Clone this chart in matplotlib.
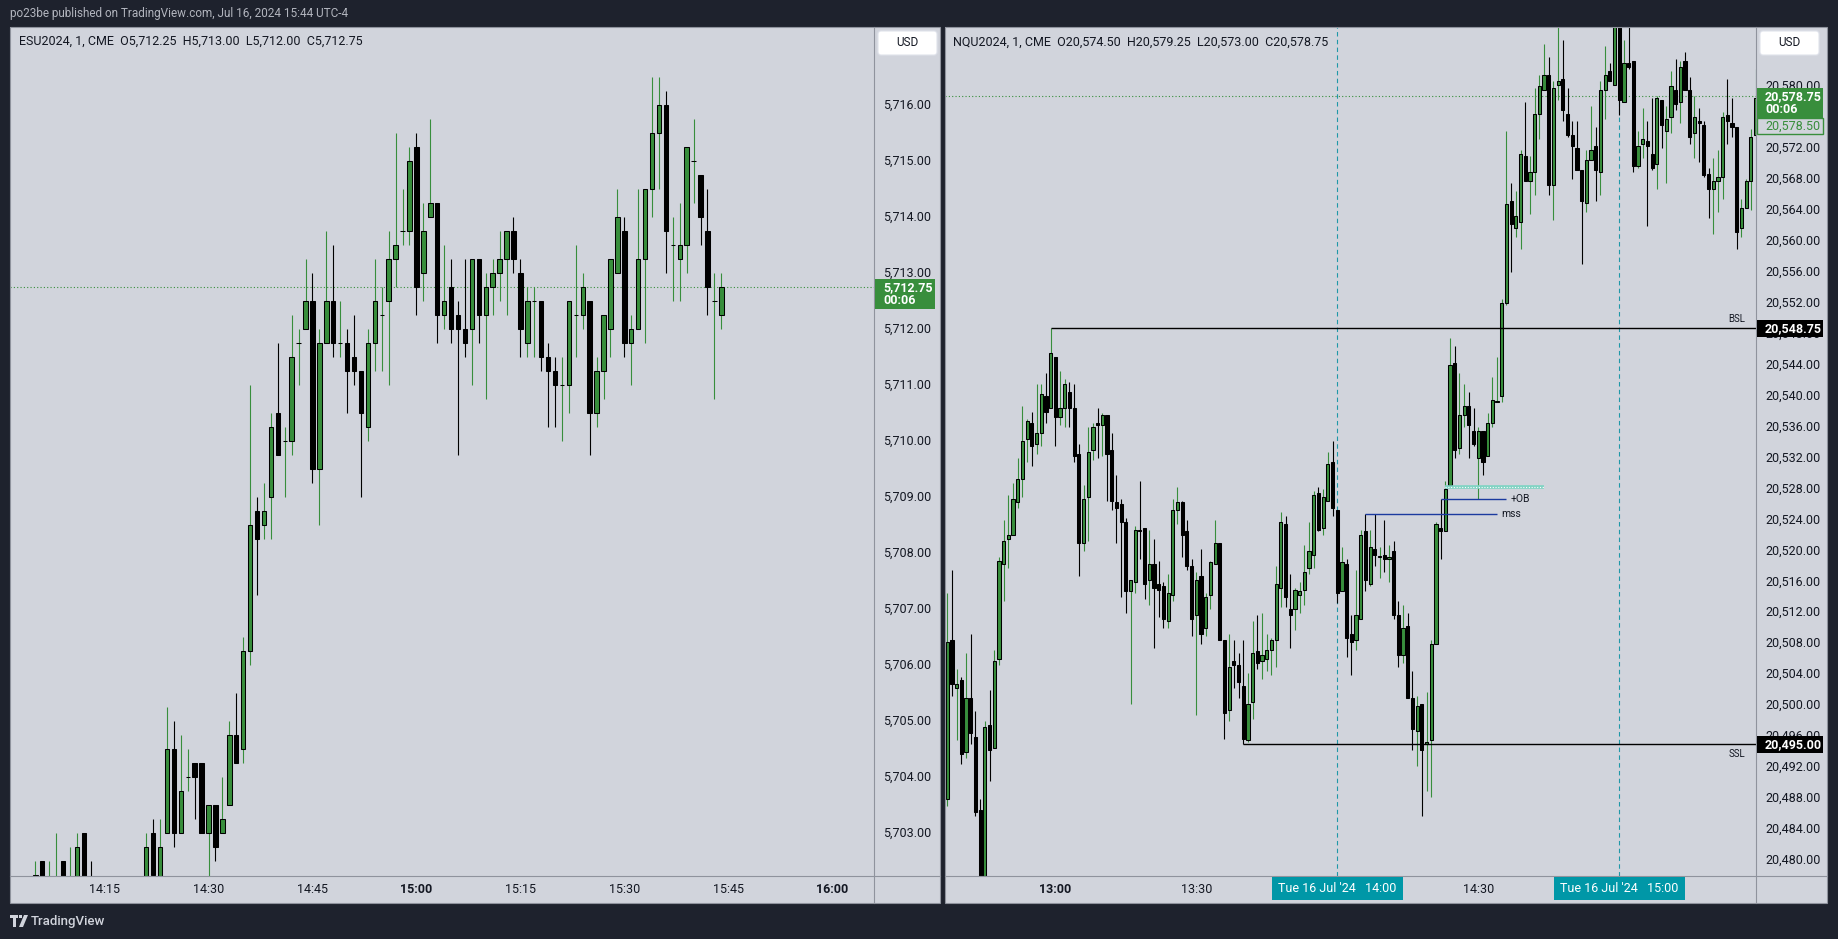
import matplotlib
matplotlib.use("Agg")
import matplotlib.pyplot as plt
from matplotlib.patches import Rectangle, FancyBboxPatch, Polygon
import numpy as np

plt.rcParams["font.family"] = ["Roboto", "DejaVu Sans"]

# ---------------- ESU2024, 1 min, first bar 14:05 ----------------
es_start = "14:05"
es_open = [5701.75, 5702.50, 5701.75, 5701.75, 5702.50, 5701.75, 5702.00, 5703.00, 5702.00, 5701.75,
           5701.25, 5701.50, 5701.25, 5701.00, 5701.50, 5701.75, 5702.00, 5703.00, 5702.00, 5703.00,
           5704.50, 5703.00, 5704.00, 5704.25, 5704.25, 5703.00, 5703.50, 5703.00, 5703.50, 5704.75,
           5704.50, 5706.25, 5708.75, 5708.50, 5709.00, 5710.50, 5710.00, 5710.00, 5711.75, 5712.00,
           5712.50, 5709.50, 5711.75, 5712.50, 5711.75, 5711.75, 5711.50, 5711.25, 5710.25, 5711.75,
           5712.25, 5712.50, 5713.25, 5713.75, 5713.75, 5715.25, 5713.00, 5714.00, 5714.25, 5712.25,
           5712.75, 5712.25, 5712.00, 5712.00, 5713.25, 5712.25, 5712.75, 5713.00, 5713.25, 5713.75,
           5713.00, 5711.75, 5712.50, 5712.50, 5711.50, 5711.25, 5711.00, 5711.00, 5712.25, 5712.25,
           5712.50, 5710.50, 5711.25, 5712.00, 5713.00, 5713.75, 5711.75, 5712.00, 5713.25, 5714.50,
           5715.50, 5716.00, 5713.50, 5713.25, 5713.50, 5715.00, 5714.75, 5713.75, 5712.50, 5712.25]
es_high = [5702.50, 5702.50, 5702.50, 5703.00, 5702.50, 5702.75, 5703.00, 5703.00, 5702.50, 5702.00,
           5701.75, 5702.00, 5701.75, 5701.75, 5702.00, 5702.00, 5703.00, 5703.25, 5703.25, 5705.25,
           5705.00, 5704.75, 5704.50, 5704.25, 5704.25, 5703.50, 5703.50, 5704.00, 5705.00, 5705.50,
           5706.50, 5711.00, 5709.00, 5709.25, 5710.50, 5711.75, 5710.25, 5712.25, 5712.00, 5713.25,
           5713.00, 5712.00, 5713.75, 5713.50, 5712.50, 5712.00, 5712.25, 5711.25, 5712.00, 5713.25,
           5712.75, 5713.75, 5715.50, 5714.50, 5715.25, 5715.50, 5714.25, 5715.75, 5714.25, 5713.50,
           5713.25, 5712.50, 5713.25, 5713.25, 5713.25, 5713.00, 5713.25, 5713.75, 5713.75, 5714.00,
           5713.25, 5712.75, 5712.75, 5712.50, 5711.75, 5711.50, 5711.50, 5712.50, 5713.50, 5713.00,
           5712.50, 5711.50, 5712.25, 5713.25, 5714.50, 5714.00, 5712.25, 5714.50, 5714.50, 5716.50,
           5716.50, 5716.25, 5714.00, 5714.25, 5715.25, 5715.75, 5714.75, 5714.50, 5713.00, 5713.00]
es_low = [5701.50, 5701.50, 5701.50, 5701.50, 5701.50, 5701.50, 5701.75, 5701.75, 5701.25, 5701.00,
          5700.75, 5701.00, 5700.75, 5700.75, 5701.25, 5701.25, 5701.75, 5702.00, 5701.75, 5703.00,
          5702.75, 5703.00, 5703.75, 5703.25, 5703.00, 5702.00, 5702.50, 5703.00, 5703.50, 5704.25,
          5704.25, 5706.00, 5707.25, 5708.25, 5708.25, 5709.75, 5709.00, 5709.75, 5711.00, 5712.00,
          5709.25, 5708.50, 5711.75, 5711.50, 5711.50, 5710.50, 5711.00, 5709.00, 5710.00, 5711.25,
          5711.25, 5711.00, 5712.75, 5713.50, 5713.50, 5712.25, 5712.50, 5714.00, 5711.75, 5712.00,
          5711.75, 5709.75, 5711.50, 5711.00, 5711.75, 5710.75, 5712.25, 5712.50, 5712.25, 5713.00,
          5711.50, 5711.50, 5711.50, 5711.25, 5710.25, 5710.25, 5710.00, 5710.50, 5711.50, 5712.00,
          5709.75, 5710.25, 5710.75, 5711.50, 5713.00, 5711.50, 5711.00, 5712.00, 5711.75, 5714.00,
          5714.50, 5713.00, 5712.50, 5712.50, 5713.00, 5714.25, 5713.50, 5712.25, 5710.75, 5712.00]
es_close = [5702.25, 5701.75, 5702.00, 5702.00, 5701.75, 5702.00, 5702.75, 5702.00, 5701.75, 5701.25,
            5701.50, 5701.25, 5701.00, 5701.50, 5701.75, 5702.00, 5702.75, 5702.25, 5702.75, 5704.50,
            5703.00, 5703.75, 5704.00, 5704.00, 5703.00, 5703.50, 5702.75, 5703.25, 5704.75, 5704.25,
            5706.25, 5708.50, 5708.25, 5708.75, 5710.25, 5709.75, 5710.00, 5711.50, 5711.75, 5712.50,
            5709.50, 5711.75, 5712.50, 5711.75, 5711.75, 5711.25, 5711.25, 5710.50, 5711.75, 5712.50,
            5712.25, 5713.25, 5713.50, 5713.75, 5715.00, 5712.75, 5713.75, 5714.25, 5712.25, 5712.50,
            5712.00, 5712.00, 5711.75, 5713.25, 5712.25, 5712.75, 5713.00, 5713.25, 5713.75, 5713.25,
            5712.00, 5712.50, 5712.50, 5711.50, 5711.25, 5711.00, 5711.00, 5712.50, 5712.25, 5712.75,
            5710.50, 5711.25, 5712.25, 5713.25, 5714.00, 5711.75, 5712.00, 5713.25, 5714.50, 5715.50,
            5716.00, 5713.75, 5713.50, 5713.50, 5715.25, 5715.00, 5714.00, 5712.75, 5712.50, 5712.75]
es_price_ticks = [5703, 5704, 5705, 5706, 5707, 5708, 5709, 5710, 5711, 5712, 5713, 5714, 5715, 5716]
es_time_ticks = ["14:15", "14:30", "14:45", "15:00", "15:15", "15:30", "15:45", "16:00"]
es_last = 5712.75
es_legend = "ESU2024, 1, CME  O5,712.25  H5,713.00  L5,712.00  C5,712.75"

# ---------------- NQU2024, 1 min, first bar 12:37 ----------------
nq_start = "12:37"
nq_open = [20488.00, 20508.50, 20502.25, 20503.25, 20494.00, 20501.00, 20496.00, 20486.50, 20478.00, 20497.50,
           20494.50, 20506.00, 20518.25, 20521.50, 20522.00, 20526.25, 20529.25, 20534.50, 20536.50, 20533.75,
           20535.25, 20540.00, 20538.50, 20545.00, 20537.25, 20538.50, 20540.50, 20538.50, 20532.50, 20521.00,
           20527.00, 20533.00, 20536.50, 20536.25, 20537.50, 20533.00, 20526.25, 20526.00, 20523.75, 20514.75,
           20516.00, 20522.75, 20523.00, 20516.25, 20518.25, 20515.75, 20515.50, 20511.00, 20514.25, 20525.25,
           20526.25, 20522.50, 20518.00, 20511.75, 20516.75, 20510.00, 20514.25, 20518.25, 20521.00, 20508.50,
           20499.50, 20505.75, 20505.25, 20502.50, 20495.50, 20500.50, 20507.00, 20505.75, 20506.00, 20507.25,
           20508.50, 20515.25, 20523.50, 20512.50, 20512.50, 20514.25, 20515.00, 20517.75, 20519.50, 20527.50,
           20523.00, 20526.50, 20531.50, 20525.25, 20514.75, 20518.25, 20509.25, 20508.50, 20511.25, 20522.50,
           20515.75, 20520.25, 20519.25, 20519.50, 20519.00, 20520.00, 20511.75, 20506.50, 20510.25, 20501.00,
           20496.75, 20500.25, 20495.00, 20495.50, 20508.00, 20523.00, 20522.50, 20528.50, 20544.25, 20533.25,
           20537.50, 20538.75, 20535.50, 20532.00, 20535.50, 20532.25, 20536.50, 20539.25, 20540.00, 20552.00,
           20565.25, 20561.75, 20562.50, 20571.00, 20567.75, 20569.00, 20576.50, 20579.50, 20581.50, 20567.25,
           20580.25, 20581.00, 20576.50, 20573.75, 20572.00, 20569.25, 20565.00, 20570.50, 20572.25, 20569.00,
           20579.50, 20582.00, 20580.25, 20588.00, 20578.00, 20583.00, 20583.25, 20569.75, 20572.50, 20573.00,
           20571.25, 20570.00, 20578.25, 20574.25, 20576.00, 20579.50, 20578.00, 20583.25, 20579.50, 20574.00,
           20575.50, 20575.00, 20568.75, 20566.75, 20567.75, 20568.25, 20576.25, 20575.25, 20574.75, 20561.75,
           20564.25, 20567.75, 20573.75]
nq_high = [20514.50, 20517.50, 20504.75, 20503.75, 20506.75, 20509.25, 20499.25, 20488.00, 20498.00, 20502.00,
           20507.25, 20519.25, 20524.00, 20527.25, 20528.75, 20532.00, 20538.75, 20537.00, 20538.00, 20541.50,
           20541.50, 20543.00, 20548.75, 20545.00, 20543.25, 20542.25, 20541.75, 20541.50, 20533.75, 20528.50,
           20536.00, 20536.50, 20538.50, 20537.75, 20537.50, 20535.25, 20529.75, 20526.75, 20524.25, 20516.25,
           20523.25, 20529.00, 20523.00, 20522.75, 20521.50, 20518.75, 20516.00, 20517.00, 20526.75, 20528.25,
           20526.50, 20524.00, 20519.00, 20517.25, 20520.25, 20514.50, 20518.75, 20524.00, 20521.00, 20508.50,
           20509.25, 20508.50, 20506.75, 20508.50, 20504.25, 20511.00, 20511.75, 20512.00, 20509.25, 20508.75,
           20518.00, 20525.00, 20524.50, 20517.00, 20515.25, 20516.00, 20520.75, 20523.75, 20527.75, 20528.25,
           20528.00, 20532.75, 20534.25, 20525.25, 20520.50, 20519.00, 20511.75, 20517.50, 20522.75, 20524.75,
           20522.75, 20524.75, 20520.50, 20524.00, 20520.75, 20521.25, 20513.50, 20513.00, 20512.00, 20504.50,
           20501.25, 20500.25, 20501.75, 20508.50, 20523.75, 20526.75, 20529.00, 20547.50, 20546.50, 20543.00,
           20541.50, 20540.50, 20538.50, 20536.00, 20535.50, 20537.75, 20542.50, 20545.00, 20552.50, 20574.25,
           20567.50, 20566.50, 20571.75, 20578.00, 20571.00, 20579.75, 20581.50, 20585.50, 20583.75, 20580.75,
           20588.00, 20586.00, 20579.75, 20575.50, 20575.50, 20569.25, 20571.75, 20577.50, 20574.75, 20580.75,
           20585.25, 20583.00, 20590.00, 20589.50, 20586.00, 20588.00, 20583.25, 20574.25, 20577.25, 20575.50,
           20578.50, 20578.75, 20578.25, 20577.50, 20582.00, 20583.50, 20583.25, 20584.50, 20581.25, 20578.75,
           20577.25, 20575.50, 20569.50, 20570.75, 20571.75, 20576.75, 20581.00, 20578.50, 20574.75, 20565.50,
           20568.00, 20574.50, 20582.25]
nq_low = [20487.00, 20501.25, 20495.50, 20492.50, 20493.25, 20495.00, 20485.75, 20477.00, 20477.50, 20490.25,
          20494.50, 20505.25, 20513.50, 20517.75, 20522.00, 20525.50, 20527.00, 20531.50, 20531.00, 20532.50,
          20533.50, 20536.50, 20538.50, 20533.50, 20536.25, 20536.00, 20536.00, 20531.50, 20516.75, 20520.00,
          20521.25, 20531.75, 20532.00, 20532.25, 20526.50, 20525.25, 20521.00, 20514.00, 20512.00, 20500.25,
          20514.50, 20519.00, 20513.75, 20513.00, 20507.50, 20511.50, 20510.00, 20510.00, 20513.50, 20523.50,
          20519.25, 20517.50, 20509.00, 20498.75, 20508.00, 20509.00, 20512.50, 20518.25, 20508.50, 20495.75,
          20498.00, 20502.25, 20501.00, 20495.00, 20495.25, 20498.25, 20504.75, 20503.50, 20504.50, 20504.00,
          20505.00, 20512.75, 20512.75, 20507.50, 20509.75, 20512.00, 20513.00, 20517.00, 20517.75, 20522.50,
          20522.00, 20526.50, 20524.50, 20513.25, 20514.75, 20506.25, 20504.00, 20507.25, 20511.25, 20514.75,
          20515.50, 20518.00, 20516.50, 20517.25, 20516.00, 20511.25, 20505.00, 20505.50, 20501.00, 20494.25,
          20492.25, 20485.75, 20489.00, 20488.25, 20508.00, 20519.00, 20522.50, 20528.50, 20532.00, 20532.50,
          20536.00, 20532.00, 20533.50, 20526.75, 20529.75, 20532.25, 20536.00, 20539.25, 20539.25, 20551.75,
          20556.00, 20560.50, 20559.00, 20567.75, 20563.50, 20566.00, 20573.25, 20579.50, 20566.00, 20562.75,
          20578.25, 20575.50, 20573.50, 20568.00, 20569.25, 20557.00, 20563.75, 20570.50, 20565.25, 20566.00,
          20575.75, 20580.75, 20580.25, 20576.25, 20578.00, 20582.25, 20569.00, 20569.50, 20570.75, 20562.00,
          20569.25, 20566.75, 20572.00, 20567.50, 20574.00, 20577.00, 20575.25, 20579.50, 20572.50, 20570.75,
          20570.25, 20568.25, 20563.00, 20561.00, 20563.75, 20565.50, 20572.50, 20573.50, 20559.00, 20560.50,
          20564.25, 20564.00, 20573.75]
nq_close = [20508.25, 20502.75, 20502.75, 20493.75, 20501.00, 20496.50, 20486.25, 20478.00, 20497.25, 20494.25,
            20505.75, 20518.75, 20521.25, 20522.00, 20526.75, 20529.25, 20534.25, 20536.75, 20533.50, 20535.25,
            20540.25, 20538.00, 20545.50, 20537.25, 20538.50, 20541.50, 20538.50, 20532.25, 20521.00, 20526.75,
            20532.75, 20536.00, 20536.25, 20537.50, 20532.50, 20526.50, 20525.50, 20523.75, 20514.75, 20516.25,
            20522.75, 20522.50, 20515.75, 20518.25, 20515.25, 20515.00, 20511.25, 20514.50, 20525.25, 20526.25,
            20522.00, 20518.00, 20511.25, 20516.25, 20509.25, 20514.00, 20518.50, 20521.00, 20508.50, 20499.00,
            20505.00, 20505.25, 20503.00, 20495.75, 20500.25, 20506.75, 20505.50, 20506.50, 20507.25, 20508.50,
            20515.75, 20523.75, 20514.00, 20511.75, 20515.00, 20514.75, 20517.25, 20520.00, 20527.25, 20522.75,
            20527.00, 20531.25, 20525.50, 20514.50, 20518.50, 20508.75, 20508.25, 20511.75, 20522.00, 20516.25,
            20520.50, 20519.50, 20519.25, 20519.00, 20519.25, 20511.75, 20506.50, 20510.00, 20501.00, 20497.00,
            20500.00, 20494.25, 20495.25, 20508.00, 20523.50, 20522.50, 20528.00, 20544.00, 20533.00, 20537.50,
            20538.75, 20536.25, 20533.75, 20535.50, 20531.50, 20536.50, 20539.50, 20539.25, 20552.00, 20564.75,
            20562.25, 20563.25, 20571.25, 20567.75, 20569.00, 20576.50, 20580.00, 20581.50, 20567.25, 20579.75,
            20580.75, 20577.00, 20573.75, 20572.25, 20569.25, 20565.25, 20570.50, 20571.75, 20569.25, 20579.50,
            20581.50, 20580.75, 20588.25, 20578.25, 20583.00, 20582.50, 20569.75, 20572.25, 20573.25, 20572.25,
            20569.50, 20578.50, 20575.00, 20575.75, 20580.00, 20577.75, 20582.50, 20579.50, 20573.50, 20576.00,
            20575.25, 20568.50, 20566.75, 20567.75, 20568.25, 20576.00, 20575.50, 20574.75, 20561.25, 20564.25,
            20567.75, 20573.50, 20578.50]
nq_price_ticks = list(range(20480, 20581, 4))
nq_time_ticks = ["13:00", "13:30", "14:30"]
nq_sessions = ["14:00", "15:00"]
nq_last = 20578.75
nq_prev = 20578.50
nq_legend = "NQU2024, 1, CME  O20,574.50  H20,579.25  L20,573.00  C20,578.75"

# drawn levels: (price, from, to)
nq_bsl = (20548.75, "12:59")
nq_ssl = (20495.00, "13:40")
nq_mss = (20524.75, "14:06", "14:34")
nq_ob = (20526.75, "14:22", "14:36")
nq_zone = (20528.25, "14:23", "14:44")

# ---------------- style ----------------
W, H = 1838, 939
BG = "#1e222d"
PANE = "#d1d4dc"
TEXT = "#131722"
GREEN = "#388e3c"
EDGE = "#8f939d"
TEAL = "#1f98a8"
TEALBOX = "#0097a7"
NAVY = "#1b3a9f"

fig = plt.figure(figsize=(W / 100, H / 100), dpi=100, facecolor=BG)


def px_axes(x0, y0, x1, y1, z=1):
    ax = fig.add_axes((x0 / W, 1 - y1 / H, (x1 - x0) / W, (y1 - y0) / H), zorder=z)
    ax.set_facecolor(PANE)
    ax.set_xticks([])
    ax.set_yticks([])
    for s in ax.spines.values():
        s.set_visible(False)
    return ax


def minute(t, start):
    h, m = map(int, t.split(":"))
    h0, m0 = map(int, start.split(":"))
    return (h * 60 + m) - (h0 * 60 + m0)


def candles(ax, o, h, l, c, width, min_body):
    o, h, l, c = (np.asarray(a, float) for a in (o, h, l, c))
    x = np.arange(len(o))
    up = c >= o
    bottom = np.minimum(o, c)
    height = np.maximum(np.abs(c - o), min_body)
    for mask, face in ((up, GREEN), (~up, "black")):
        ax.vlines(x[mask], l[mask], h[mask], color=face, lw=0.8, zorder=2)
        ax.bar(x[mask], height[mask], width, bottom[mask], color=face,
               edgecolor="black", linewidth=0.75, zorder=3)


for x0, x1 in ((10, 940), (945, 1827)):
    px_axes(x0, 27, x1, 903, z=0)

ax_es = px_axes(10, 27, 874, 876)
ax_nq = px_axes(945, 27, 1756, 876)

candles(ax_es, es_open, es_high, es_low, es_close, 0.64, 0.01)
candles(ax_nq, nq_open, nq_high, nq_low, nq_close, 0.68, 0.05)

ax_es.set_xlim(-3.65, 121.03)
ax_es.set_ylim(5702.24, 5717.40)
ax_nq.set_xlim(-0.47, 172.09)
ax_nq.set_ylim(20477.99, 20587.68)

dots = (0, (1, 2))
ax_es.axhline(es_last, color=GREEN, lw=0.8, ls=dots, zorder=1)
ax_nq.axhline(nq_last, color=GREEN, lw=0.8, ls=dots, zorder=1)
for t in nq_sessions:
    ax_nq.axvline(minute(t, nq_start), color=TEAL, lw=0.8, ls=(0, (4, 3)), zorder=1)

xr = ax_nq.get_xlim()[1]
ax_nq.hlines(nq_bsl[0], minute(nq_bsl[1], nq_start), xr, color="black", lw=1.0, zorder=4)
ax_nq.hlines(nq_ssl[0], minute(nq_ssl[1], nq_start), xr, color="black", lw=1.0, zorder=4)
ax_nq.hlines(nq_mss[0], minute(nq_mss[1], nq_start), minute(nq_mss[2], nq_start), color=NAVY, lw=1.0, zorder=4)
ax_nq.hlines(nq_ob[0], minute(nq_ob[1], nq_start), minute(nq_ob[2], nq_start), color=NAVY, lw=1.0, zorder=4)
z0, z1 = minute(nq_zone[1], nq_start), minute(nq_zone[2], nq_start)
ax_nq.hlines(nq_zone[0], z0, z1, color="#7fd3c3", lw=2.6, zorder=4)
ax_nq.hlines(nq_zone[0], z0, z1, color="white", lw=0.8, ls=(0, (1, 1.5)), zorder=5)
ax_nq.text(minute(nq_mss[2], nq_start) + 0.8, nq_mss[0], "mss", fontsize=7.5, color=TEXT,
           va="center", ha="left", zorder=5)
ax_nq.text(minute(nq_ob[2], nq_start) + 0.8, nq_ob[0], "+OB", fontsize=7.5, color=TEXT,
           va="center", ha="left", zorder=5)
ax_nq.text(xr - 2.3, nq_bsl[0] + 0.6, "BSL", fontsize=7, color=TEXT, va="bottom", ha="right", zorder=5)
ax_nq.text(xr - 2.3, nq_ssl[0] - 0.6, "SSL", fontsize=7, color=TEXT, va="top", ha="right", zorder=5)

# ---------------- overlay in pixel coords ----------------
ov = fig.add_axes((0, 0, 1, 1), zorder=5)
ov.set_xlim(0, W)
ov.set_ylim(H, 0)
ov.axis("off")


def py(ax, price):
    return H - ax.transData.transform((0, price))[1]


def pxx(ax, x):
    return ax.transData.transform((x, 0))[0]


# frame lines
for (x0, x1, xd) in ((10, 940, 874), (945, 1827, 1756)):
    ov.add_patch(Rectangle((x0, 27), x1 - x0, 876, fill=False, edgecolor=EDGE, lw=0.8))
    ov.plot([xd, xd], [27, 903], color=EDGE, lw=0.8)
    ov.plot([x0, x1], [876, 876], color=EDGE, lw=0.8)

# price scales (plain labels sit under the highlighted boxes)
for p in es_price_ticks:
    ov.text(883, py(ax_es, p), f"{p:,.2f}", fontsize=9, color=TEXT, va="center", ha="left", zorder=2)
for p in nq_price_ticks:
    ov.text(1765, py(ax_nq, p), f"{p:,.2f}", fontsize=9, color=TEXT, va="center", ha="left", zorder=2)

# time scales
for t in es_time_ticks:
    ov.text(pxx(ax_es, minute(t, es_start)), 889.5, t, fontsize=9, color=TEXT, ha="center", va="center",
            weight="bold" if t.endswith(":00") else "normal")
for t in nq_time_ticks:
    ov.text(pxx(ax_nq, minute(t, nq_start)), 889.5, t, fontsize=9, color=TEXT, ha="center", va="center",
            weight="bold" if t.endswith(":00") else "normal")
for t in nq_sessions:
    xc = pxx(ax_nq, minute(t, nq_start))
    ov.add_patch(Rectangle((xc - 65, 877), 131, 23, color=TEALBOX, lw=0, zorder=4))
    ov.text(xc, 888.5, f"Tue 16 Jul '24   {t}", fontsize=9, color="white", ha="center", va="center", zorder=6)

# last price boxes
y = py(ax_es, es_last)
ov.add_patch(Rectangle((875, y - 8), 60, 30, color=GREEN, lw=0, zorder=4))
ov.text(883, y, f"{es_last:,.2f}", fontsize=9, color="white", weight="bold", va="center", zorder=6)
ov.text(883, y + 13.5, "00:06", fontsize=9, color="white", weight="bold", va="center", zorder=6)

y = py(ax_nq, nq_last)
ov.add_patch(Rectangle((1757, y - 8), 66, 30, color=GREEN, lw=0, zorder=4))
ov.text(1765, y, f"{nq_last:,.2f}", fontsize=9, color="white", weight="bold", va="center", zorder=6)
ov.text(1765, y + 13.5, "00:06", fontsize=9, color="white", weight="bold", va="center", zorder=6)
ov.add_patch(Rectangle((1757, y + 22), 66, 16, facecolor=PANE, edgecolor=GREEN, lw=1, zorder=4))
ov.text(1765, y + 30, f"{nq_prev:,.2f}", fontsize=9, color=GREEN, va="center", zorder=6)

for level in (nq_bsl[0], nq_ssl[0]):
    y = py(ax_nq, level)
    ov.add_patch(Rectangle((1757, y - 8.5), 66, 17, color="black", lw=0, zorder=4))
    ov.text(1765, y, f"{level:,.2f}", fontsize=9, color="white", weight="bold", va="center", zorder=6)

# USD buttons
for x0 in (878, 1760):
    ov.add_patch(FancyBboxPatch((x0, 31), 59, 24, boxstyle="round,pad=0,rounding_size=3",
                                facecolor="white", edgecolor="#e0e3eb", lw=0.8, zorder=4))
    ov.text(x0 + 29.5, 43, "USD", fontsize=8.5, color=TEXT, ha="center", va="center", zorder=6)

# legends
ov.text(19, 41, es_legend, fontsize=9, color=TEXT, va="center")
ov.text(953, 42, nq_legend, fontsize=9, color=TEXT, va="center")

# top banner and footer
ov.text(10, 13.5, "po23be published on TradingView.com, Jul 16, 2024 15:44 UTC-4",
        fontsize=8.5, color="#b2b5be", va="center")
ov.add_patch(Rectangle((10, 915), 8, 3, color="#d1d4dc", lw=0))
ov.add_patch(Rectangle((13, 915), 3, 12, color="#d1d4dc", lw=0))
ov.add_patch(Polygon([(19, 927), (24, 915), (28, 915), (23, 927)], closed=True, color="#d1d4dc", lw=0))
ov.add_patch(Rectangle((19, 915), 3, 3, color="#d1d4dc", lw=0))
ov.text(31, 921, "TradingView", fontsize=9.5, color="#d1d4dc", va="center", weight="medium")

fig.savefig("out.png", dpi=100, facecolor=BG)
